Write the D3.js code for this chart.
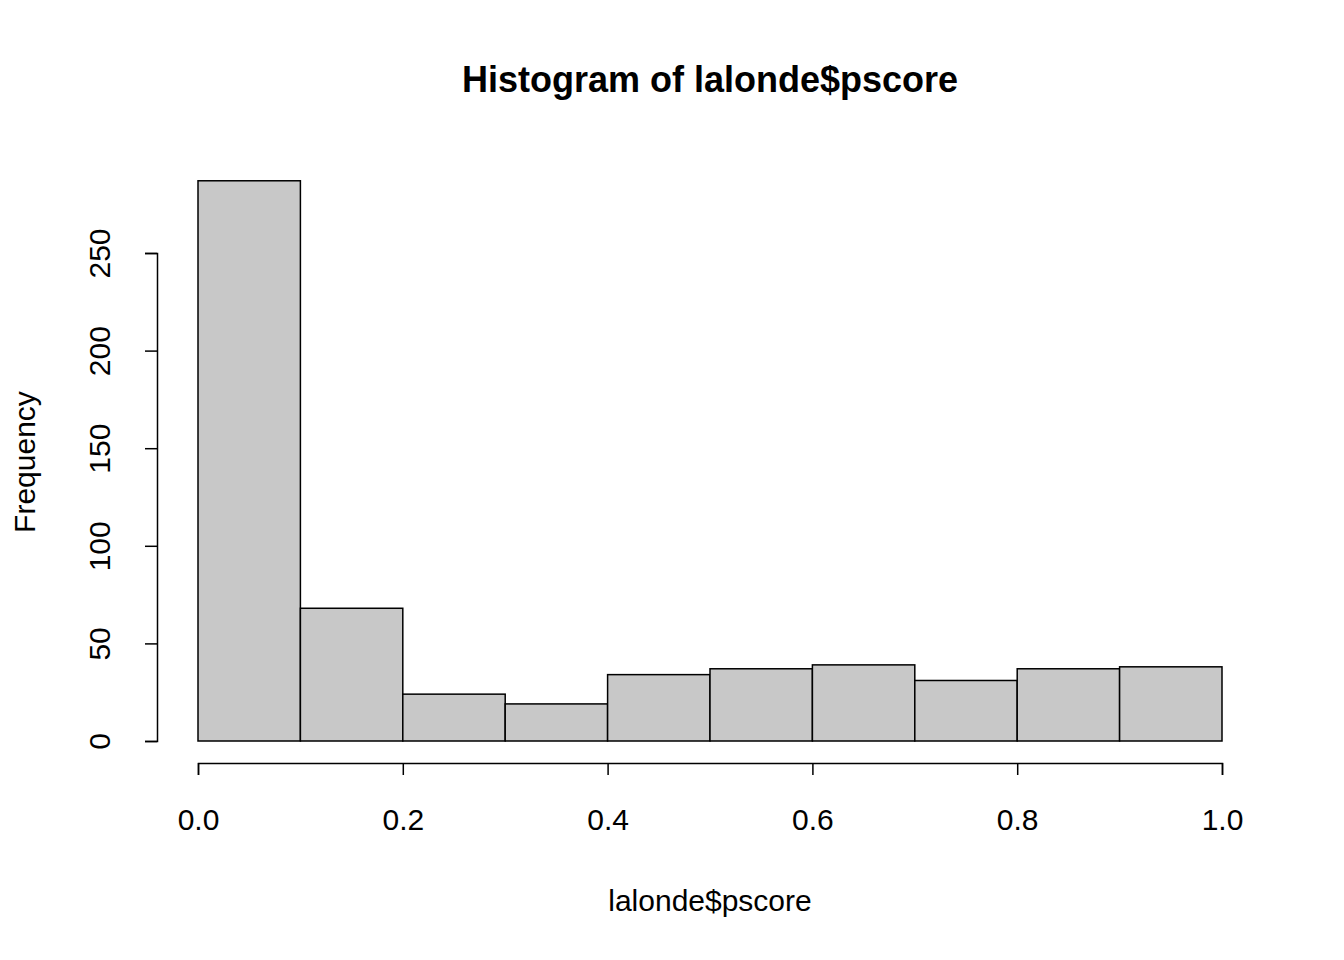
<!DOCTYPE html>
<html><head><meta charset="utf-8">
<script src="https://cdn.jsdelivr.net/npm/d3@7/dist/d3.min.js"></script>
<style>body{margin:0;background:#fff}text{font-family:"Liberation Sans",Arial,sans-serif}</style>
</head><body>
<svg id="chart" width="1344" height="960"></svg>
<script>
const binEdges = [0, 0.1, 0.2, 0.3, 0.4, 0.5, 0.6, 0.7, 0.8, 0.9, 1.0];
const counts = [287, 68, 24, 19, 34, 37, 39, 31, 37, 38];
const xTicks = [0, 0.2, 0.4, 0.6, 0.8, 1.0];
const yTicks = [0, 50, 100, 150, 200, 250];

const svg = d3.select("#chart");
const x = d3.scaleLinear().domain([0, 1]).range([198, 1222]);
const y = d3.scaleLinear().domain([0, 250]).range([741, 253]);

// bars
svg.append("g").selectAll("rect")
    .data(counts)
    .enter().append("rect")
    .attr("x", (d, i) => x(binEdges[i]))
    .attr("width", (d, i) => x(binEdges[i + 1]) - x(binEdges[i]))
    .attr("y", d => y(d))
    .attr("height", d => y(0) - y(d))
    .style("fill", "#c8c8c8")
    .style("stroke", "#000")
    .style("stroke-width", 1.5);

// x axis
const xa = svg.append("g")
    .attr("transform", "translate(0,763)")
    .call(d3.axisBottom(x).tickValues(xTicks).tickSize(12).tickPadding(34).tickFormat(d3.format(".1f")));
// y axis
const ya = svg.append("g")
    .attr("transform", "translate(157,0)")
    .call(d3.axisLeft(y).tickValues(yTicks).tickSize(12));
ya.selectAll("text").remove();
ya.selectAll(".tick").append("text")
    .attr("transform", "translate(-47,0) rotate(-90)")
    .attr("text-anchor", "middle")
    .attr("fill", "#000")
    .style("font-size", "30px")
    .text(d => d);

[xa, ya].forEach(a => {
    a.select(".domain").attr("stroke", "#000").attr("stroke-width", 1.5);
    a.selectAll(".tick line").attr("stroke", "#000").attr("stroke-width", 1.5);
});
xa.selectAll("text").style("font-size", "30px").attr("fill", "#000");

svg.append("text").attr("x", 710).attr("y", 92).attr("text-anchor", "middle")
    .style("font-size", "36px").style("font-weight", "bold").text("Histogram of lalonde$pscore");
svg.append("text").attr("x", 710).attr("y", 911).attr("text-anchor", "middle")
    .style("font-size", "30px").text("lalonde$pscore");
svg.append("text").attr("transform", "translate(35,462) rotate(-90)").attr("text-anchor", "middle")
    .style("font-size", "30px").text("Frequency");
</script>
</body></html>
